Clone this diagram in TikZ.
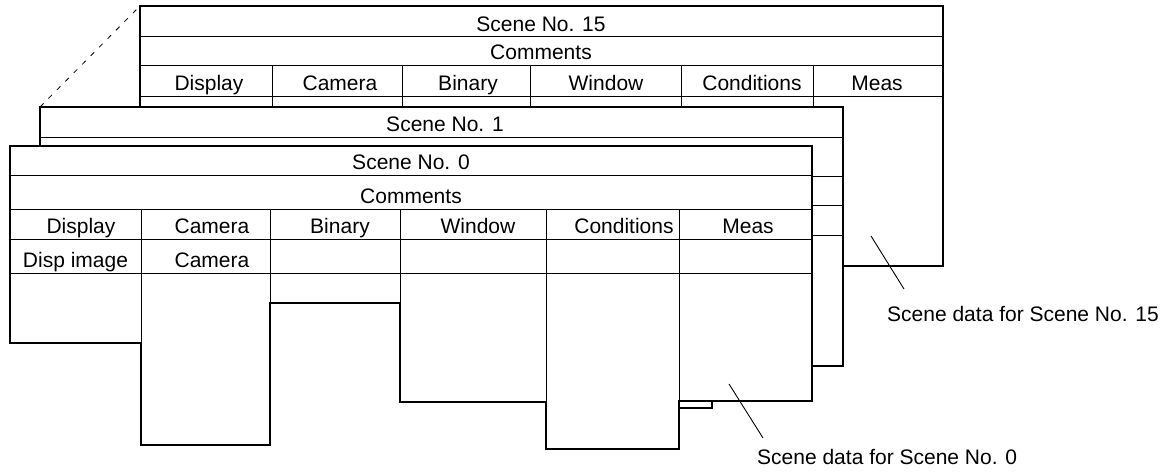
\documentclass[tikz,border=0pt]{standalone}
\usepackage{fontspec}
\setmainfont{Liberation Sans}
\begin{document}
\begin{tikzpicture}[x=1pt,y=-1pt,
  thickline/.style={line width=2.8pt, line join=miter},
  thinline/.style={line width=1pt},
  dashline/.style={line width=0.8pt, dash pattern=on 5pt off 7pt},
  leader/.style={line width=0.9pt},
  lbl/.style={anchor=base, inner sep=0pt, font=\fontsize{21}{25}\selectfont},
  lblw/.style={anchor=base west, inner sep=0pt, font=\fontsize{21}{25}\selectfont},
]
\useasboundingbox (0,0) rectangle (1164,472);

% ---------------- Scene No. 15 ----------------
\draw[thinline] (140,36) -- (943,36) (140,65) -- (943,65) (140,96) -- (943,96);
\draw[thinline] (272,65) -- (272,107) (402,65) -- (402,107) (530,65) -- (530,107)
  (681,65) -- (681,107) (813,65) -- (813,107);
\draw[thickline] (140,107) -- (140,6) -- (943,6) -- (943,266) -- (843,266);
\coordinate (d1) at (40,107);
\coordinate (d2) at (140,6);
\draw[dashline] (d1) -- (d2);
\node[lbl] (t15) at (541,31) {Scene No. 15};
\node[lbl] (c15) at (541,59) {Comments};
\node[lbl] (h15a) at (209,90) {Display};
\node[lbl] (h15b) at (340,90) {Camera};
\node[lbl] (h15c) at (468,90) {Binary};
\node[lbl] (h15d) at (606,90) {Window};
\node[lbl] (h15e) at (752,90) {Conditions};
\node[lbl] (h15f) at (877,90) {Meas};

% ---------------- Scene No. 1 ----------------
\fill[white] (40,107) rectangle (843,366);
\draw[thinline] (40,137) -- (843,137);
\draw[thinline] (812,176) -- (843,176) (812,205) -- (843,205) (812,235) -- (843,235);
\draw[thickline] (40,146) -- (40,107) -- (843,107) -- (843,366) -- (812,366);
\node[lbl] (t1) at (445,131) {Scene No. 1};

% ---------------- Scene No. 0 ----------------
\fill[white] (10,146) -- (812,146) -- (812,401) -- (679,401) -- (679,449) -- (546,449)
  -- (546,402) -- (400,402) -- (400,303) -- (270,303) -- (270,445) -- (141,445)
  -- (141,343) -- (10,343) -- cycle;
\draw[thinline] (10,175) -- (812,175) (10,209) -- (812,209) (10,239) -- (812,239)
  (10,273) -- (812,273);
\draw[thinline] (141,209) -- (141,343) (270,209) -- (270,303) (400,209) -- (400,303)
  (546,209) -- (546,402) (679,209) -- (679,401);
\draw[thickline] (10,146) -- (812,146) -- (812,401) -- (679,401) -- (679,449) -- (546,449)
  -- (546,402) -- (400,402) -- (400,303) -- (270,303) -- (270,445) -- (141,445)
  -- (141,343) -- (10,343) -- cycle;
\draw[line width=2.2pt] (679,401) rectangle (712,408);
\node[lbl] (t0) at (411,169) {Scene No. 0};
\node[lbl] (c0) at (411,203) {Comments};
\node[lbl] (h0a) at (81,233) {Display};
\node[lbl] (h0b) at (212,233) {Camera};
\node[lbl] (h0c) at (340,233) {Binary};
\node[lbl] (h0d) at (478,233) {Window};
\node[lbl] (h0e) at (624,233) {Conditions};
\node[lbl] (h0f) at (748,233) {Meas};
\node[lbl] (r0a) at (75.5,267) {Disp image};
\node[lbl] (r0b) at (212,267) {Camera};

% ---------------- Labels ----------------
\node[lblw] (L15) at (887,321) {Scene data for Scene No. 15};
\node[lblw] (L0) at (757,464) {Scene data for Scene No. 0};
\coordinate (p15a) at (871,236);
\coordinate (p15b) at (904,289);
\coordinate (p0a) at (729,384);
\coordinate (p0b) at (763,438);
\draw[leader] (p15a) -- (p15b);
\draw[leader] (p0a) -- (p0b);
\end{tikzpicture}
\end{document}
